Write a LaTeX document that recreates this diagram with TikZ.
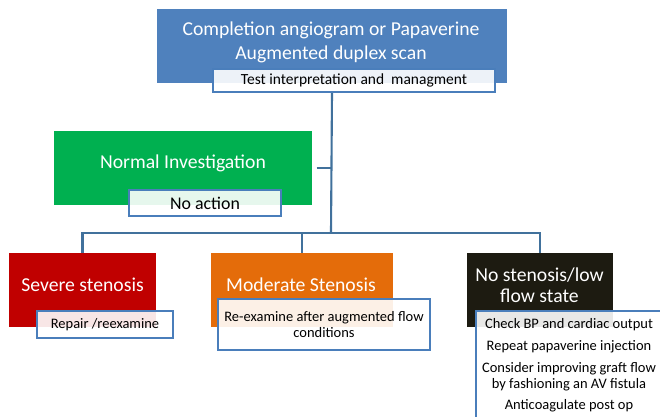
\documentclass[tikz,border=0pt]{standalone}
\usepackage{fontspec}
\setmainfont{Carlito}
\definecolor{topblue}{HTML}{4F81BD}
\definecolor{normgreen}{HTML}{00B050}
\definecolor{sevred}{HTML}{C00000}
\definecolor{modorange}{HTML}{E46C0A}
\definecolor{lowblack}{HTML}{1D1B11}
\definecolor{noteblue}{HTML}{4A7EBB}
\definecolor{linkblue}{HTML}{41719C}

\begin{document}
\begin{tikzpicture}[x=0.025cm, y=-0.025cm,
  catbox/.style={draw=none, fill=#1, minimum height=1.85cm, inner sep=0pt},
  cattext/.style={text=white, font=\fontsize{14}{17}\selectfont, align=center},
  notebox/.style={draw=noteblue, line width=1.5pt, fill=white, fill opacity=0.9, text opacity=1,
    inner sep=0pt, font=\fontsize{10.3}{11.4}\selectfont, align=center},
  link/.style={draw=linkblue, line width=1.5pt}]
\path[use as bounding box, clip] (0,0) rectangle (660,416);
%----------------- top: the test -----------------
\node[catbox=topblue, minimum width=8.75cm] (test) at (332,46) {};
\node[cattext, align=center] (testtxt) at (331,42) {Completion angiogram or Papaverine\\Augmented duplex scan};
\node[notebox, minimum width=7.05cm, minimum height=0.575cm, font=\fontsize{11}{13}\selectfont] (interp) at (354,80.5) {Test interpretation and\ \ managment};
%----------------- middle: normal result -----------------
\node[catbox=normgreen, minimum width=6.45cm] (normal) at (183,168) {};
\node[cattext] (normaltxt) at (183,163) {Normal Investigation};
\node[notebox, minimum width=3.8cm, minimum height=0.65cm, font=\fontsize{12.7}{14}\selectfont] (noaction) at (205,203) {No action};
%----------------- bottom: the three findings -----------------
\node[catbox=sevred, minimum width=3.675cm] (severe) at (82.5,290) {};
\node[cattext] (severetxt) at (82.5,285) {Severe stenosis};
\node[notebox, minimum width=3.4cm, minimum height=0.675cm] (repair) at (105,324.5) {Repair /reexamine};

\node[catbox=modorange, minimum width=4.55cm] (moderate) at (302,290) {};
\node[cattext] (moderatetxt) at (301,285) {Moderate Stenosis};
\node[notebox, minimum width=5.3cm, minimum height=1.275cm] (reexam) at (324,324.5) {Re-examine after augmented flow\\conditions};

\node[catbox=lowblack, minimum width=3.65cm] (lowflow) at (540,290) {};
\node[cattext, font=\fontsize{14}{15}\selectfont] (lowflowtxt) at (539.5,285.5) {No stenosis/low\\flow state};
\node[notebox, minimum width=4.65cm, inner ysep=5pt, anchor=north] (checks) at (569,310)
  {Check BP and cardiac output\\[4.2pt]
   Repeat papaverine injection\\[4.2pt]
   Consider improving graft flow\\by fashioning an AV fistula\\[4.2pt]
   Anticoagulate post op\\[6pt]};
% connectors
\coordinate (hub) at (331,233);
\draw[link] (test.center |- interp.south) -- (hub);
\draw[link] ([xshift=3]normal.east) -- (normal.east -| hub);
\draw[link] (severe.north) -- (severe.north |- hub) -- (lowflow.north |- hub) -- (lowflow.north);
\draw[link] (moderate.north) -- (moderate.north |- hub);
\end{tikzpicture}
\end{document}
